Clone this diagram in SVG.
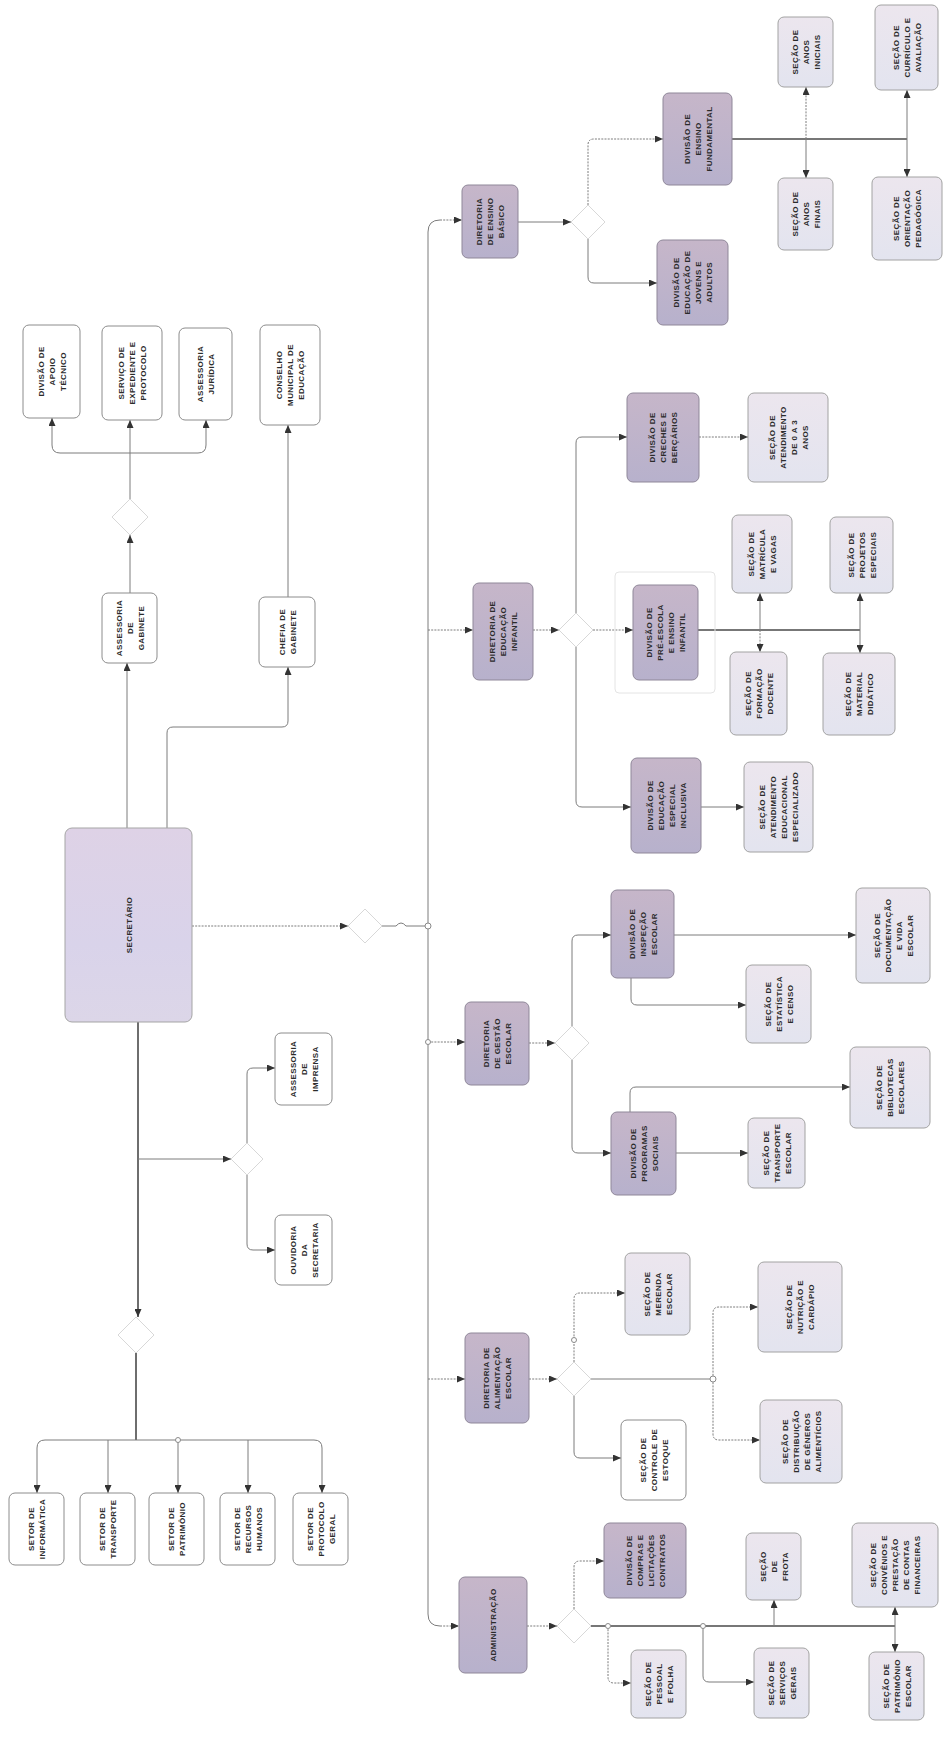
<svg xmlns="http://www.w3.org/2000/svg" width="943" height="1756" viewBox="0 0 943 1756">
<defs>
<linearGradient id="gd" x1="0" y1="0" x2="0" y2="1"><stop offset="0" stop-color="#c6b6c9"/><stop offset="1" stop-color="#b7b1cc"/></linearGradient>
<linearGradient id="gl" x1="0" y1="0" x2="0" y2="1"><stop offset="0" stop-color="#ece6ee"/><stop offset="1" stop-color="#e3e4ef"/></linearGradient>
<linearGradient id="gm" x1="0" y1="0" x2="0" y2="1"><stop offset="0" stop-color="#ded2e6"/><stop offset="0.6" stop-color="#d9d3ea"/><stop offset="1" stop-color="#dcd6e8"/></linearGradient>
<marker id="a" viewBox="0 0 8 7" refX="8" refY="3.5" markerWidth="8" markerHeight="7" markerUnits="userSpaceOnUse" orient="auto"><path d="M0,0 L8,3.5 L0,7 z" fill="#333"/></marker>
</defs>
<style>
.w{fill:#fff;stroke:#8c8c8c;stroke-width:1}
.l{fill:url(#gl);stroke:#a2a2a2;stroke-width:1}
.d{fill:url(#gd);stroke:#8f8799;stroke-width:1}
.m{fill:url(#gm);stroke:#a5a5a5;stroke-width:1}
.dia{fill:#fff;stroke:#d8d8d8;stroke-width:1}
.t{font-family:"Liberation Sans",Arial,sans-serif;font-size:8px;font-weight:bold;fill:#2b2b2b;text-anchor:middle;letter-spacing:0.4px}
.c{fill:none;stroke:#7c7c7c;stroke-width:1}
.k{fill:none;stroke:#4a4a4a;stroke-width:1.6}
.o{stroke-dasharray:2 1.2}
.ring{fill:#fff;stroke:#8a8a8a;stroke-width:1}
</style>
<rect width="943" height="1756" fill="#fff"/>

<g id="connectors">
<!-- left cluster -->
<path class="c" d="M127,828 V663" marker-end="url(#a)"/>
<path class="c" d="M130,593 V535" marker-end="url(#a)"/>
<path class="c" d="M130,499 V420" marker-end="url(#a)"/>
<path class="c" d="M60,453 H198"/>
<path class="c" d="M60,453 Q52,453 52,445 V418" marker-end="url(#a)"/>
<path class="c" d="M198,453 Q206,453 206,445 V420" marker-end="url(#a)"/>
<path class="c" d="M167,828 V733 Q167,727 173,727 H282 Q288,727 288,721 V667" marker-end="url(#a)"/>
<path class="c" d="M288,597 V425" marker-end="url(#a)"/>
<path class="c o" d="M192,926 H348" marker-end="url(#a)"/>
<path class="c" d="M382,926 H396 q5,-6 10,0 H428"/>
<path class="k" d="M138,1022 V1317" marker-end="url(#a)"/>
<path class="c" d="M138,1159 H231" marker-end="url(#a)"/>
<path class="c" d="M247,1143 V1074 Q247,1068 253,1068 H275" marker-end="url(#a)"/>
<path class="c" d="M247,1175 V1244 Q247,1250 253,1250 H275" marker-end="url(#a)"/>
<path class="k" d="M136,1353 V1440"/>
<path class="c" d="M45,1440 H314"/>
<path class="c" d="M45,1440 Q37,1440 37,1448 V1493" marker-end="url(#a)"/>
<path class="c" d="M108,1440 V1493" marker-end="url(#a)"/>
<path class="c" d="M178,1440 V1493" marker-end="url(#a)"/>
<path class="c" d="M248,1440 V1493" marker-end="url(#a)"/>
<path class="c" d="M314,1440 Q322,1440 322,1448 V1493" marker-end="url(#a)"/>
<!-- bus -->
<path class="c" d="M440,220 Q428,220 428,232 V1614 Q428,1626 440,1626"/>
<path class="c o" d="M440,220 H462" marker-end="url(#a)"/>
<path class="c o" d="M428,630 H473" marker-end="url(#a)"/>
<path class="c o" d="M428,1042 H465" marker-end="url(#a)"/>
<path class="c o" d="M428,1379 H465" marker-end="url(#a)"/>
<path class="c o" d="M440,1626 H459" marker-end="url(#a)"/>
<!-- E1 cluster -->
<path class="c" d="M518,222 H571" marker-end="url(#a)"/>
<path class="c o" d="M588,205 V145 Q588,139 594,139 H663" marker-end="url(#a)"/>
<path class="c" d="M588,239 V277 Q588,283 594,283 H657" marker-end="url(#a)"/>
<path class="k" d="M732,139 H907"/>
<path class="c o" d="M806,139 V87" marker-end="url(#a)"/>
<path class="c" d="M806,139 V178" marker-end="url(#a)"/>
<path class="c" d="M907,139 V90" marker-end="url(#a)"/>
<path class="c" d="M907,139 V177" marker-end="url(#a)"/>
<!-- E2 cluster -->
<path class="c o" d="M533,630 H559" marker-end="url(#a)"/>
<path class="c" d="M576,613 V443 Q576,437 582,437 H627" marker-end="url(#a)"/>
<path class="c o" d="M699,437 H748" marker-end="url(#a)"/>
<path class="c o" d="M593,630 H633" marker-end="url(#a)"/>
<path class="k" d="M698,630 H860"/>
<path class="c" d="M760,630 V593" marker-end="url(#a)"/>
<path class="c o" d="M760,630 V652" marker-end="url(#a)"/>
<path class="c" d="M860,630 V593" marker-end="url(#a)"/>
<path class="c" d="M860,630 V653" marker-end="url(#a)"/>
<path class="c" d="M576,647 V801 Q576,807 582,807 H631" marker-end="url(#a)"/>
<path class="c" d="M701,807 H744" marker-end="url(#a)"/>
<!-- E3 cluster -->
<path class="c o" d="M529,1043 H555" marker-end="url(#a)"/>
<path class="c" d="M572,1026 V941 Q572,935 578,935 H611" marker-end="url(#a)"/>
<path class="c" d="M674,935 H856" marker-end="url(#a)"/>
<path class="c" d="M631,978 V999 Q631,1005 637,1005 H746" marker-end="url(#a)"/>
<path class="c" d="M572,1060 V1147 Q572,1153 578,1153 H611" marker-end="url(#a)"/>
<path class="c" d="M676,1153 H748" marker-end="url(#a)"/>
<path class="c" d="M630,1112 V1093 Q630,1087 636,1087 H850" marker-end="url(#a)"/>
<!-- E4 cluster -->
<path class="c o" d="M529,1379 H557" marker-end="url(#a)"/>
<path class="c o" d="M574,1362 V1299 Q574,1293 580,1293 H625" marker-end="url(#a)"/>
<path class="c" d="M574,1396 V1452 Q574,1458 580,1458 H621" marker-end="url(#a)"/>
<path class="c" d="M591,1379 H713"/>
<path class="c o" d="M713,1379 V1313 Q713,1307 719,1307 H758" marker-end="url(#a)"/>
<path class="c o" d="M713,1379 V1434 Q713,1440 719,1440 H760" marker-end="url(#a)"/>
<!-- E5 cluster -->
<path class="c o" d="M527,1626 H557" marker-end="url(#a)"/>
<path class="c o" d="M574,1609 V1567 Q574,1561 580,1561 H604" marker-end="url(#a)"/>
<path class="k" d="M591,1626 H895"/>
<path class="c" d="M774,1626 V1600" marker-end="url(#a)"/>
<path class="c" d="M895,1626 V1607" marker-end="url(#a)"/>
<path class="c" d="M895,1626 V1652" marker-end="url(#a)"/>
<path class="c o" d="M608,1626 V1677 Q608,1683 614,1683 H631" marker-end="url(#a)"/>
<path class="c" d="M703,1626 V1676 Q703,1682 709,1682 H754" marker-end="url(#a)"/>
<!-- line jumps -->
<circle class="ring" cx="428" cy="926" r="3"/>
<circle class="ring" cx="428" cy="1042" r="2.5"/>
<circle class="ring" cx="574" cy="1340" r="2.5"/>
<circle class="ring" cx="713" cy="1379" r="3"/>
<circle class="ring" cx="608" cy="1626" r="2.5"/>
<circle class="ring" cx="703" cy="1626" r="2.5"/>
<circle class="ring" cx="178" cy="1440" r="2.5"/>
</g>

<g id="diamonds">
<path class="dia" d="M130,499 L148,517 L130,535 L112,517 z"/>
<path class="dia" d="M365,909 L382,926 L365,943 L348,926 z"/>
<path class="dia" d="M136,1317 L154,1335 L136,1353 L118,1335 z"/>
<path class="dia" d="M247,1143 L263,1159 L247,1175 L231,1159 z"/>
<path class="dia" d="M588,205 L605,222 L588,239 L571,222 z"/>
<path class="dia" d="M576,613 L593,630 L576,647 L559,630 z"/>
<path class="dia" d="M572,1026 L589,1043 L572,1060 L555,1043 z"/>
<path class="dia" d="M574,1362 L591,1379 L574,1396 L557,1379 z"/>
<path class="dia" d="M574,1609 L591,1626 L574,1643 L557,1626 z"/>
</g>

<g id="main"><rect class="m" x="65" y="828" width="127" height="194" rx="7"/><text class="t" transform="translate(128.5,925) rotate(-90)"><tspan x="0" y="3">SECRETÁRIO</tspan></text></g>

<g id="A1"><rect class="w" x="23" y="325" width="57" height="93" rx="6"/><text class="t" transform="translate(51.5,371.5) rotate(-90)"><tspan x="0" y="-8">DIVISÃO DE</tspan><tspan x="0" y="3">APOIO</tspan><tspan x="0" y="14">TÉCNICO</tspan></text></g>
<g id="A2"><rect class="w" x="102" y="326" width="60" height="94" rx="6"/><text class="t" transform="translate(132,373) rotate(-90)"><tspan x="0" y="-8">SERVIÇO DE</tspan><tspan x="0" y="3">EXPEDIENTE E</tspan><tspan x="0" y="14">PROTOCOLO</tspan></text></g>
<g id="A3"><rect class="w" x="179" y="328" width="53" height="92" rx="6"/><text class="t" transform="translate(205.5,374) rotate(-90)"><tspan x="0" y="-2.5">ASSESSORIA</tspan><tspan x="0" y="8.5">JURÍDICA</tspan></text></g>
<g id="A4"><rect class="w" x="260" y="325" width="60" height="100" rx="6"/><text class="t" transform="translate(290,375) rotate(-90)"><tspan x="0" y="-8">CONSELHO</tspan><tspan x="0" y="3">MUNICIPAL DE</tspan><tspan x="0" y="14">EDUCAÇÃO</tspan></text></g>
<g id="B1"><rect class="w" x="102" y="593" width="55" height="70" rx="6"/><text class="t" transform="translate(129.5,628) rotate(-90)"><tspan x="0" y="-8">ASSESSORIA</tspan><tspan x="0" y="3">DE</tspan><tspan x="0" y="14">GABINETE</tspan></text></g>
<g id="B2"><rect class="w" x="259" y="597" width="56" height="70" rx="6"/><text class="t" transform="translate(287,632) rotate(-90)"><tspan x="0" y="-2.5">CHEFIA DE</tspan><tspan x="0" y="8.5">GABINETE</tspan></text></g>
<g id="D1"><rect class="w" x="275" y="1033" width="57" height="72" rx="6"/><text class="t" transform="translate(303.5,1069) rotate(-90)"><tspan x="0" y="-8">ASSESSORIA</tspan><tspan x="0" y="3">DE</tspan><tspan x="0" y="14">IMPRENSA</tspan></text></g>
<g id="D2"><rect class="w" x="275" y="1215" width="57" height="70" rx="6"/><text class="t" transform="translate(303.5,1250) rotate(-90)"><tspan x="0" y="-8">OUVIDORIA</tspan><tspan x="0" y="3">DA</tspan><tspan x="0" y="14">SECRETARIA</tspan></text></g>
<g id="C1"><rect class="w" x="9" y="1493" width="55" height="72" rx="6"/><text class="t" transform="translate(36.5,1529) rotate(-90)"><tspan x="0" y="-2.5">SETOR DE</tspan><tspan x="0" y="8.5">INFORMÁTICA</tspan></text></g>
<g id="C2"><rect class="w" x="80" y="1493" width="55" height="72" rx="6"/><text class="t" transform="translate(107.5,1529) rotate(-90)"><tspan x="0" y="-2.5">SETOR DE</tspan><tspan x="0" y="8.5">TRANSPORTE</tspan></text></g>
<g id="C3"><rect class="w" x="149" y="1493" width="55" height="72" rx="6"/><text class="t" transform="translate(176.5,1529) rotate(-90)"><tspan x="0" y="-2.5">SETOR DE</tspan><tspan x="0" y="8.5">PATRIMÔNIO</tspan></text></g>
<g id="C4"><rect class="w" x="220" y="1493" width="55" height="72" rx="6"/><text class="t" transform="translate(247.5,1529) rotate(-90)"><tspan x="0" y="-8">SETOR DE</tspan><tspan x="0" y="3">RECURSOS</tspan><tspan x="0" y="14">HUMANOS</tspan></text></g>
<g id="C5"><rect class="w" x="293" y="1493" width="55" height="72" rx="6"/><text class="t" transform="translate(320.5,1529) rotate(-90)"><tspan x="0" y="-8">SETOR DE</tspan><tspan x="0" y="3">PROTOCOLO</tspan><tspan x="0" y="14">GERAL</tspan></text></g>

<g id="E1"><rect class="d" x="462" y="185" width="56" height="73" rx="6"/><text class="t" transform="translate(490,221.5) rotate(-90)"><tspan x="0" y="-8">DIRETORIA</tspan><tspan x="0" y="3">DE ENSINO</tspan><tspan x="0" y="14">BÁSICO</tspan></text></g>
<g id="E2"><rect class="d" x="473" y="583" width="60" height="97" rx="6"/><text class="t" transform="translate(503,631.5) rotate(-90)"><tspan x="0" y="-8">DIRETORIA DE</tspan><tspan x="0" y="3">EDUCAÇÃO</tspan><tspan x="0" y="14">INFANTIL</tspan></text></g>
<g id="E3"><rect class="d" x="465" y="1002" width="64" height="83" rx="6"/><text class="t" transform="translate(497,1043.5) rotate(-90)"><tspan x="0" y="-8">DIRETORIA</tspan><tspan x="0" y="3">DE GESTÃO</tspan><tspan x="0" y="14">ESCOLAR</tspan></text></g>
<g id="E4"><rect class="d" x="465" y="1333" width="64" height="90" rx="6"/><text class="t" transform="translate(497,1378) rotate(-90)"><tspan x="0" y="-8">DIRETORIA DE</tspan><tspan x="0" y="3">ALIMENTAÇÃO</tspan><tspan x="0" y="14">ESCOLAR</tspan></text></g>
<g id="E5"><rect class="d" x="459" y="1577" width="68" height="96" rx="6"/><text class="t" transform="translate(493,1625) rotate(-90)"><tspan x="0" y="3">ADMINISTRAÇÃO</tspan></text></g>

<g id="F1"><rect class="d" x="663" y="93" width="69" height="92" rx="6"/><text class="t" transform="translate(697.5,139) rotate(-90)"><tspan x="0" y="-8">DIVISÃO DE</tspan><tspan x="0" y="3">ENSINO</tspan><tspan x="0" y="14">FUNDAMENTAL</tspan></text></g>
<g id="F2"><rect class="d" x="657" y="240" width="71" height="85" rx="6"/><text class="t" transform="translate(692.5,282.5) rotate(-90)"><tspan x="0" y="-13.5">DIVISÃO DE</tspan><tspan x="0" y="-2.5">EDUCAÇÃO DE</tspan><tspan x="0" y="8.5">JOVENS E</tspan><tspan x="0" y="19.5">ADULTOS</tspan></text></g>
<g id="G1"><rect class="l" x="778" y="17" width="55" height="70" rx="6"/><text class="t" transform="translate(805.5,52) rotate(-90)"><tspan x="0" y="-8">SEÇÃO DE</tspan><tspan x="0" y="3">ANOS</tspan><tspan x="0" y="14">INICIAIS</tspan></text></g>
<g id="G2"><rect class="l" x="778" y="178" width="55" height="72" rx="6"/><text class="t" transform="translate(805.5,214) rotate(-90)"><tspan x="0" y="-8">SEÇÃO DE</tspan><tspan x="0" y="3">ANOS</tspan><tspan x="0" y="14">FINAIS</tspan></text></g>
<g id="G3"><rect class="l" x="875" y="5" width="63" height="85" rx="6"/><text class="t" transform="translate(906.5,47.5) rotate(-90)"><tspan x="0" y="-8">SEÇÃO DE</tspan><tspan x="0" y="3">CURRÍCULO E</tspan><tspan x="0" y="14">AVALIAÇÃO</tspan></text></g>
<g id="G4"><rect class="l" x="872" y="177" width="70" height="83" rx="6"/><text class="t" transform="translate(907,218.5) rotate(-90)"><tspan x="0" y="-8">SEÇÃO DE</tspan><tspan x="0" y="3">ORIENTAÇÃO</tspan><tspan x="0" y="14">PEDAGÓGICA</tspan></text></g>

<g id="H1"><rect class="d" x="627" y="393" width="72" height="89" rx="6"/><text class="t" transform="translate(663,437.5) rotate(-90)"><tspan x="0" y="-8">DIVISÃO DE</tspan><tspan x="0" y="3">CRECHES E</tspan><tspan x="0" y="14">BERÇÁRIOS</tspan></text></g>
<g id="H1b"><rect class="l" x="748" y="393" width="80" height="89" rx="6"/><text class="t" transform="translate(788,437.5) rotate(-90)"><tspan x="0" y="-13.5">SEÇÃO DE</tspan><tspan x="0" y="-2.5">ATENDIMENTO</tspan><tspan x="0" y="8.5">DE 0 A 3</tspan><tspan x="0" y="19.5">ANOS</tspan></text></g>
<g id="H2"><rect x="615" y="572" width="100" height="121" rx="4" fill="none" stroke="#e4e4e4"/><rect class="d" x="633" y="585" width="65" height="95" rx="6"/><text class="t" transform="translate(665.5,632.5) rotate(-90)"><tspan x="0" y="-13.5">DIVISÃO DE</tspan><tspan x="0" y="-2.5">PRÉ-ESCOLA</tspan><tspan x="0" y="8.5">E ENSINO</tspan><tspan x="0" y="19.5">INFANTIL</tspan></text></g>
<g id="H3"><rect class="l" x="732" y="515" width="60" height="78" rx="6"/><text class="t" transform="translate(762,554) rotate(-90)"><tspan x="0" y="-8">SEÇÃO DE</tspan><tspan x="0" y="3">MATRÍCULA</tspan><tspan x="0" y="14">E VAGAS</tspan></text></g>
<g id="H4"><rect class="l" x="730" y="652" width="57" height="83" rx="6"/><text class="t" transform="translate(758.5,693.5) rotate(-90)"><tspan x="0" y="-8">SEÇÃO DE</tspan><tspan x="0" y="3">FORMAÇÃO</tspan><tspan x="0" y="14">DOCENTE</tspan></text></g>
<g id="H5"><rect class="l" x="830" y="517" width="63" height="76" rx="6"/><text class="t" transform="translate(861.5,555) rotate(-90)"><tspan x="0" y="-8">SEÇÃO DE</tspan><tspan x="0" y="3">PROJETOS</tspan><tspan x="0" y="14">ESPECIAIS</tspan></text></g>
<g id="H6"><rect class="l" x="823" y="653" width="72" height="82" rx="6"/><text class="t" transform="translate(859,694) rotate(-90)"><tspan x="0" y="-8">SEÇÃO DE</tspan><tspan x="0" y="3">MATERIAL</tspan><tspan x="0" y="14">DIDÁTICO</tspan></text></g>
<g id="H7"><rect class="d" x="631" y="758" width="70" height="95" rx="6"/><text class="t" transform="translate(666,805.5) rotate(-90)"><tspan x="0" y="-13.5">DIVISÃO DE</tspan><tspan x="0" y="-2.5">EDUCAÇÃO</tspan><tspan x="0" y="8.5">ESPECIAL</tspan><tspan x="0" y="19.5">INCLUSIVA</tspan></text></g>
<g id="H8"><rect class="l" x="744" y="762" width="69" height="90" rx="6"/><text class="t" transform="translate(778.5,807) rotate(-90)"><tspan x="0" y="-13.5">SEÇÃO DE</tspan><tspan x="0" y="-2.5">ATENDIMENTO</tspan><tspan x="0" y="8.5">EDUCACIONAL</tspan><tspan x="0" y="19.5">ESPECIALIZADO</tspan></text></g>

<g id="J1"><rect class="d" x="611" y="890" width="63" height="88" rx="6"/><text class="t" transform="translate(642.5,934) rotate(-90)"><tspan x="0" y="-8">DIVISÃO DE</tspan><tspan x="0" y="3">INSPEÇÃO</tspan><tspan x="0" y="14">ESCOLAR</tspan></text></g>
<g id="J2"><rect class="l" x="856" y="888" width="74" height="95" rx="6"/><text class="t" transform="translate(893,935.5) rotate(-90)"><tspan x="0" y="-13.5">SEÇÃO DE</tspan><tspan x="0" y="-2.5">DOCUMENTAÇÃO</tspan><tspan x="0" y="8.5">E VIDA</tspan><tspan x="0" y="19.5">ESCOLAR</tspan></text></g>
<g id="J3"><rect class="l" x="746" y="965" width="65" height="78" rx="6"/><text class="t" transform="translate(778.5,1004) rotate(-90)"><tspan x="0" y="-8">SEÇÃO DE</tspan><tspan x="0" y="3">ESTATÍSTICA</tspan><tspan x="0" y="14">E CENSO</tspan></text></g>
<g id="J4"><rect class="d" x="611" y="1112" width="65" height="83" rx="6"/><text class="t" transform="translate(643.5,1153.5) rotate(-90)"><tspan x="0" y="-8">DIVISÃO DE</tspan><tspan x="0" y="3">PROGRAMAS</tspan><tspan x="0" y="14">SOCIAIS</tspan></text></g>
<g id="J5"><rect class="l" x="748" y="1118" width="57" height="70" rx="6"/><text class="t" transform="translate(776.5,1153) rotate(-90)"><tspan x="0" y="-8">SEÇÃO DE</tspan><tspan x="0" y="3">TRANSPORTE</tspan><tspan x="0" y="14">ESCOLAR</tspan></text></g>
<g id="J6"><rect class="l" x="850" y="1047" width="80" height="81" rx="6"/><text class="t" transform="translate(890,1087.5) rotate(-90)"><tspan x="0" y="-8">SEÇÃO DE</tspan><tspan x="0" y="3">BIBLIOTECAS</tspan><tspan x="0" y="14">ESCOLARES</tspan></text></g>

<g id="K1"><rect class="l" x="625" y="1253" width="65" height="82" rx="6"/><text class="t" transform="translate(657.5,1294) rotate(-90)"><tspan x="0" y="-8">SEÇÃO DE</tspan><tspan x="0" y="3">MERENDA</tspan><tspan x="0" y="14">ESCOLAR</tspan></text></g>
<g id="K2"><rect class="w" x="621" y="1420" width="65" height="80" rx="6"/><text class="t" transform="translate(653.5,1460) rotate(-90)"><tspan x="0" y="-8">SEÇÃO DE</tspan><tspan x="0" y="3">CONTROLE DE</tspan><tspan x="0" y="14">ESTOQUE</tspan></text></g>
<g id="K3"><rect class="l" x="758" y="1262" width="84" height="90" rx="6"/><text class="t" transform="translate(800,1307) rotate(-90)"><tspan x="0" y="-8">SEÇÃO DE</tspan><tspan x="0" y="3">NUTRIÇÃO E</tspan><tspan x="0" y="14">CARDÁPIO</tspan></text></g>
<g id="K4"><rect class="l" x="760" y="1400" width="82" height="83" rx="6"/><text class="t" transform="translate(801,1441.5) rotate(-90)"><tspan x="0" y="-13.5">SEÇÃO DE</tspan><tspan x="0" y="-2.5">DISTRIBUIÇÃO</tspan><tspan x="0" y="8.5">DE GÊNEROS</tspan><tspan x="0" y="19.5">ALIMENTÍCIOS</tspan></text></g>

<g id="L1"><rect class="d" x="604" y="1523" width="82" height="75" rx="6"/><text class="t" transform="translate(645,1560.5) rotate(-90)"><tspan x="0" y="-13.5">DIVISÃO DE</tspan><tspan x="0" y="-2.5">COMPRAS E</tspan><tspan x="0" y="8.5">LICITAÇÕES</tspan><tspan x="0" y="19.5">CONTRATOS</tspan></text></g>
<g id="L2"><rect class="l" x="746" y="1533" width="55" height="67" rx="6"/><text class="t" transform="translate(773.5,1566.5) rotate(-90)"><tspan x="0" y="-8">SEÇÃO</tspan><tspan x="0" y="3">DE</tspan><tspan x="0" y="14">FROTA</tspan></text></g>
<g id="L3"><rect class="l" x="852" y="1523" width="86" height="84" rx="6"/><text class="t" transform="translate(895,1565) rotate(-90)"><tspan x="0" y="-19">SEÇÃO DE</tspan><tspan x="0" y="-8">CONVÊNIOS E</tspan><tspan x="0" y="3">PRESTAÇÃO</tspan><tspan x="0" y="14">DE CONTAS</tspan><tspan x="0" y="25">FINANCEIRAS</tspan></text></g>
<g id="L4"><rect class="l" x="631" y="1650" width="55" height="68" rx="6"/><text class="t" transform="translate(658.5,1684) rotate(-90)"><tspan x="0" y="-8">SEÇÃO DE</tspan><tspan x="0" y="3">PESSOAL</tspan><tspan x="0" y="14">E FOLHA</tspan></text></g>
<g id="L5"><rect class="l" x="754" y="1648" width="55" height="70" rx="6"/><text class="t" transform="translate(781.5,1683) rotate(-90)"><tspan x="0" y="-8">SEÇÃO DE</tspan><tspan x="0" y="3">SERVIÇOS</tspan><tspan x="0" y="14">GERAIS</tspan></text></g>
<g id="L6"><rect class="l" x="869" y="1652" width="55" height="68" rx="6"/><text class="t" transform="translate(896.5,1686) rotate(-90)"><tspan x="0" y="-8">SEÇÃO DE</tspan><tspan x="0" y="3">PATRIMÔNIO</tspan><tspan x="0" y="14">ESCOLAR</tspan></text></g>
</svg>
